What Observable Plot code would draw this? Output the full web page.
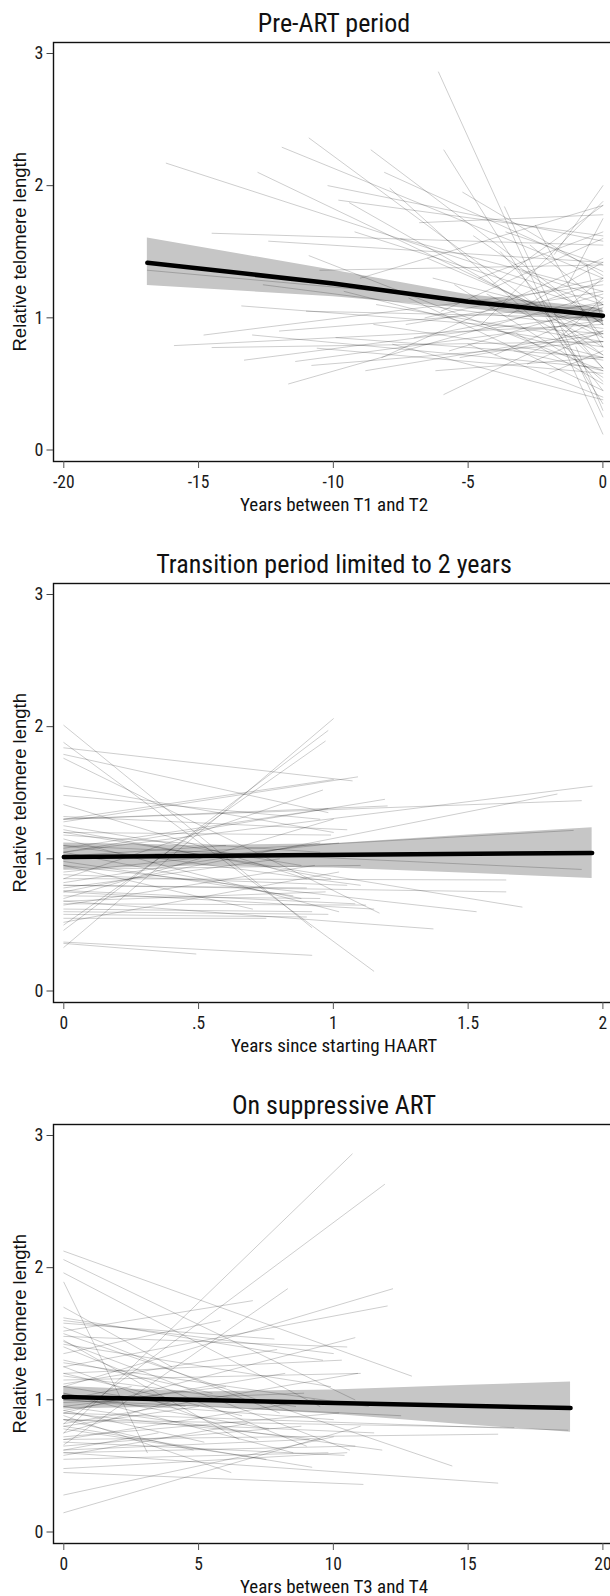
<!DOCTYPE html>
<html><head><meta charset="utf-8">
<script src="https://cdn.jsdelivr.net/npm/d3@7"></script>
<script src="https://cdn.jsdelivr.net/npm/@observablehq/plot@0.6"></script>
<style>
html,body{margin:0;padding:0;background:#fff;overflow:hidden}
#chart{width:614px}
#chart svg{display:block;max-width:none !important}
</style></head><body><div id="chart"></div>
<script>
const p1Title = "Pre-ART period";
const p1XTitle = "Years between T1 and T2";
const p1XTicks = [-20, -15, -10, -5, 0];
const p1Start = [-16.2,-16.9,-15.9,-14.8,-14.5,-14.5,-13.3,-13.0,-12.8,-12.4,-11.9,-11.66,-11.4,-10.9,-10.9,-13.4,-10.5,-8.6,-8.1,-7.9,-6.1,-5.9,-5.9,-9.8,-9.4,-3.65,-10.8,-10.6,-9.0,-8.5,-8.2,-7.5,-7.2,-7.0,-6.8,-6.5,-6.2,-6.0,-5.5,-5.2,-5.0,-4.8,-4.5,-4.3,-4.0,-3.8,-3.5,-3.2,-3.0,-2.8,-2.5,-2.3,-2.0,-1.8,-1.5,-1.3,-1.0,-0.8,-11.0,-9.6,-12.0,-8.8,-7.8,-9.2,-6.6,-5.7,-4.6,-10.2,-2.7,-1.6,-0.6,-3.3,-2.1,-1.2,-4.1,-3.9,-5.3,-6.3,-7.3,-8.4,-9.9,-12.6,-3.6];
const p1T1 = [2.17,1.36,0.79,0.87,0.775,1.64,0.68,0.87,2.10,1.58,2.29,0.50,0.67,2.36,1.47,1.09,1.36,2.27,2.10,1.98,2.86,2.27,0.42,1.89,1.87,1.84,0.64,0.77,1.30,0.95,0.70,1.60,1.15,0.85,1.72,1.45,0.60,1.05,1.25,1.95,0.80,1.62,0.95,1.18,0.72,1.50,1.02,0.88,1.35,0.65,1.70,1.12,0.58,1.48,0.92,1.25,0.78,1.05,1.05,1.20,0.90,0.60,0.80,1.65,1.00,0.75,1.30,2.00,1.55,0.85,1.40,0.75,1.00,1.10,1.25,0.90,0.70,1.30,0.95,1.10,0.85,1.25,1.65];
const p1T2 = [1.10,1.05,0.95,1.25,0.82,1.55,1.03,0.62,0.85,1.42,1.30,1.18,0.98,0.72,0.60,0.88,1.40,0.95,1.35,0.52,0.12,0.35,1.00,1.62,0.78,0.25,0.82,0.58,1.85,0.68,1.45,1.20,0.45,1.12,1.78,0.88,0.70,1.60,0.55,1.32,0.40,0.95,1.88,0.72,1.08,0.62,1.42,0.50,1.15,0.90,0.78,1.28,0.75,2.00,0.62,1.75,0.30,0.85,1.00,0.70,1.10,0.90,0.38,1.05,1.30,1.10,1.65,1.58,1.10,1.15,0.95,0.60,0.45,1.30,1.85,0.78,0.88,0.98,1.20,0.82,0.70,0.92,1.40];
const p1FitX = [-16.9, -10, -5, 0];
const p1FitY = [1.417, 1.26, 1.122, 1.016];
const p1BandX = [-16.9, -10, -5, 0];
const p1BandLo = [1.244, 1.16, 1.07, 0.96];
const p1BandHi = [1.604, 1.36, 1.175, 1.07];

const p2Title = "Transition period limited to 2 years";
const p2XTitle = "Years since starting HAART";
const p2XTicks = [0, 0.5, 1, 1.5, 2];
const p2End = [0.92,1.15,1.07,1.17,0.98,1.00,0.98,0.97,0.92,0.49,1.96,1.92,1.83,1.89,1.92,1.70,1.64,1.64,1.53,1.37,1.19,1.20,1.09,1.00,0.95,0.90,1.05,0.88,1.02,0.98,0.85,1.10,1.05,0.95,0.90,1.08,0.95,0.97,1.12,0.92,0.98,0.90,0.75,1.02,0.80,1.00,0.60,0.99,1.10,0.70,1.00,0.96,0.95,1.02,0.88,1.15,0.99,0.93];
const p2T1 = [2.01,1.88,1.84,1.76,1.79,0.33,0.46,0.50,0.37,0.36,1.05,1.30,0.75,1.00,1.10,1.20,0.85,0.80,0.95,0.68,1.05,1.30,1.28,1.55,1.48,1.41,1.32,1.25,1.15,1.08,0.98,0.92,0.88,0.82,0.80,0.76,0.72,0.68,0.66,0.62,0.60,0.58,0.55,0.52,0.78,1.30,1.02,1.20,1.10,0.95,0.70,0.85,1.18,0.90,1.05,0.75,1.22,0.65];
const p2T2 = [0.48,0.15,1.59,0.59,1.35,2.06,1.97,1.89,0.27,0.28,1.55,1.44,1.49,1.215,0.92,0.635,0.84,0.75,0.60,0.47,1.45,1.40,1.62,1.20,1.30,0.85,1.22,0.95,0.60,1.38,0.72,0.95,0.80,1.12,0.78,0.66,0.70,0.75,0.65,0.60,0.58,0.56,0.55,0.90,1.00,1.60,1.10,1.18,0.80,0.62,1.30,1.52,1.05,1.12,0.70,0.62,0.85,0.95];
const p2FitX = [0, 1.96];
const p2FitY = [1.014, 1.045];
const p2BandX = [0, 0.5, 1, 1.5, 1.96];
const p2BandLo = [0.92, 0.945, 0.93, 0.89, 0.852];
const p2BandHi = [1.12, 1.10, 1.115, 1.18, 1.236];

const p3Title = "On suppressive ART";
const p3XTitle = "Years between T3 and T4";
const p3XTicks = [0, 5, 10, 15, 20];
const p3End = [12.9,10.8,9.5,3.1,10.7,11.9,8.3,12.2,12.0,10.8,14.4,16.1,11.1,9.2,16.7,16.1,18.7,10.0,11.0,10.5,10.0,8.0,10.5,6.5,7.0,4.0,9.0,5.5,10.3,11.0,8.5,10.0,6.0,9.5,11.5,5.0,7.5,10.2,8.8,3.5,10.8,6.8,9.8,4.5,12.5,7.2,5.8,8.2,2.5,10.6,9.3,11.8,6.2,8.6,10.9,7.8,4.2,9.6,9.9,7.6,5.2,10.4,8.9,6.6,11.3,4.8,9.1,7.9];
const p3T1 = [2.125,2.06,1.96,1.89,0.75,0.82,0.66,1.10,1.25,0.90,1.50,0.60,0.45,0.80,0.85,0.70,0.90,0.28,0.146,0.48,1.60,1.55,1.48,1.45,1.52,1.70,1.40,1.30,1.20,1.15,1.05,1.00,0.95,0.90,0.85,0.80,0.78,0.72,0.65,0.62,0.60,0.58,0.55,1.10,1.00,1.25,1.35,0.92,1.00,1.44,0.70,0.95,0.88,1.18,0.82,1.58,0.75,1.62,1.42,1.05,0.92,0.68,0.98,1.20,1.28,0.85,0.62,1.12];
const p3T2 = [1.18,1.00,0.95,0.60,2.86,2.63,1.84,1.84,1.71,1.47,0.50,0.37,0.36,0.49,0.79,0.74,0.77,0.72,0.80,0.60,1.35,0.90,1.40,0.70,1.75,1.25,0.65,1.05,1.30,1.20,0.60,0.85,1.10,0.70,0.75,0.95,0.55,0.90,0.80,0.75,0.65,0.82,0.60,0.95,0.88,0.70,1.60,1.20,1.10,0.62,1.00,0.62,0.45,0.95,1.20,1.46,1.00,1.30,1.10,0.78,0.68,0.58,1.05,0.88,0.95,0.62,0.70,1.38];
const p3FitX = [0, 18.8];
const p3FitY = [1.021, 0.938];
const p3BandX = [0, 5, 10, 15, 18.8];
const p3BandLo = [0.93, 0.95, 0.89, 0.81, 0.755];
const p3BandHi = [1.10, 1.06, 1.075, 1.11, 1.134];

const yTitle = "Relative telomere length";
const NARROW = '"Liberation Sans Narrow","Arial Narrow","Roboto Condensed","Liberation Sans",Arial,sans-serif';
const REGULAR = '"Liberation Sans",Arial,Helvetica,sans-serif';

function fmt(d) {
  if (d === 0) return "0";
  const s = String(d);
  return s.startsWith("0.") ? s.slice(1) : s;
}

function panel(o) {
  const rows = [];
  o.segs.forEach((s, i) => {
    rows.push({id: i, x: s[0], y: s[1]});
    rows.push({id: i, x: s[2], y: s[3]});
  });
  const fit = o.fitX.map((x, i) => ({x, y: o.fitY[i]}));
  const band = o.bandX.map((x, i) => ({x, lo: o.bandLo[i], hi: o.bandHi[i]}));
  const W = 614, ML = 53;
  return Plot.plot({
    width: W,
    height: o.height,
    marginLeft: ML,
    marginRight: 0,
    marginTop: 42,
    marginBottom: o.height - 461,
    style: {fontFamily: NARROW, background: "#fff", color: "#1a1a1a"},
    x: {domain: o.xDomain, range: [63.3, 602.4]},
    y: {domain: [0, 3], range: [449.5, 53]},
    marks: [
      Plot.areaY(band, {x: "x", y1: "lo", y2: "hi", fill: "#c6c6c6"}),
      Plot.line(rows, {x: "x", y: "y", z: "id", stroke: "#000", strokeOpacity: 0.22, strokeWidth: 0.9}),
      Plot.line(fit, {x: "x", y: "y", stroke: "#000", strokeWidth: 4.5}),
      Plot.frame({stroke: "#111", strokeWidth: 1.4}),
      Plot.axisY({ticks: [0, 1, 2, 3], tickSize: 6.5, tickPadding: 3.5, fontSize: 18, label: null, tickFormat: d => String(d), stroke: "#444"}),
      Plot.axisX({ticks: o.xTicks, tickSize: 7, tickPadding: 7.5, fontSize: 17.5, label: null, tickFormat: fmt, stroke: "#555"}),
      Plot.text([o.title], {frameAnchor: "top", dy: -10.3, lineAnchor: "bottom", fontSize: 26, fill: "#111"}),
      Plot.text([o.xTitle], {frameAnchor: "bottom", dy: 49, lineAnchor: "bottom", fontSize: 19, fill: "#111"}),
      Plot.text([{x: o.xDomain[0], y: 1.5, t: yTitle}], {x: "x", y: "y", text: "t", dx: 20 - 63.3, rotate: -90, textAnchor: "middle", lineAnchor: "middle", fontSize: 18.5, fontFamily: REGULAR, fill: "#111"})
    ]
  });
}

const chart = document.getElementById("chart");
chart.append(panel({
  title: p1Title, xTitle: p1XTitle, height: 541, xDomain: [-20, 0], xTicks: p1XTicks,
  segs: p1Start.map((s, i) => [s, p1T1[i], 0, p1T2[i]]),
  fitX: p1FitX, fitY: p1FitY, bandX: p1BandX, bandLo: p1BandLo, bandHi: p1BandHi
}));
chart.append(panel({
  title: p2Title, xTitle: p2XTitle, height: 541, xDomain: [0, 2], xTicks: p2XTicks,
  segs: p2End.map((e, i) => [0, p2T1[i], e, p2T2[i]]),
  fitX: p2FitX, fitY: p2FitY, bandX: p2BandX, bandLo: p2BandLo, bandHi: p2BandHi
}));
chart.append(panel({
  title: p3Title, xTitle: p3XTitle, height: 514, xDomain: [0, 20], xTicks: p3XTicks,
  segs: p3End.map((e, i) => [0, p3T1[i], e, p3T2[i]]),
  fitX: p3FitX, fitY: p3FitY, bandX: p3BandX, bandLo: p3BandLo, bandHi: p3BandHi
}));
</script></body></html>
